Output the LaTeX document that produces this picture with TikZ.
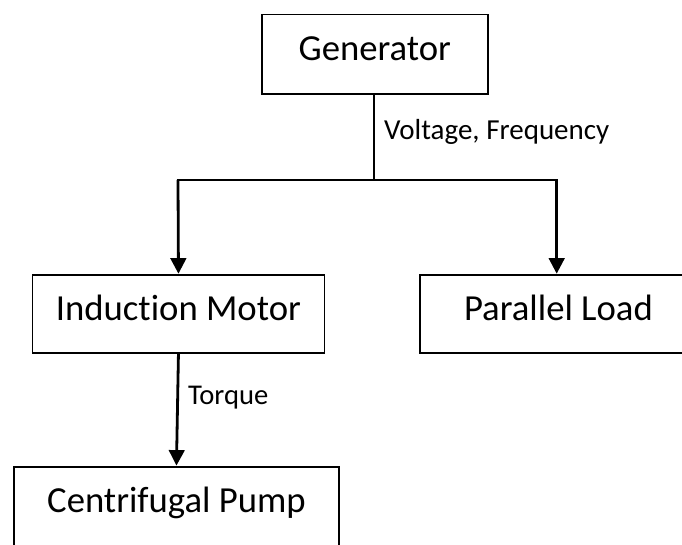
\documentclass[tikz,border=0pt]{standalone}
\usepackage{fontspec}
\setmainfont[Ligatures=NoCommon]{Carlito}
\usetikzlibrary{arrows.meta}
\begin{document}
\begin{tikzpicture}[x=1pt,y=-1pt,
  blockbox/.style={draw, line width=1.9pt, inner sep=0pt, anchor=north west,
    font=\fontsize{36.7}{44}\selectfont},
  flowlabel/.style={inner sep=0pt, anchor=base west,
    font=\fontsize{29}{34}\selectfont},
  feed/.style={line width=2pt},
  bus/.style={line width=2.5pt},
  flowarrow/.style={line width=2.8pt, -{Triangle[length=15.5pt,width=15.5pt]}}]
\useasboundingbox (0,0) rectangle (682,544);
\node[blockbox, minimum width=226.3pt, text height=46.5pt, text depth=33.3pt] (gen) at (260.7,13.5) {Generator};
\node[blockbox, minimum width=292pt, text height=45.8pt, text depth=32.2pt] (motor) at (31.5,273.7) {Induction Motor};
\node[blockbox, minimum width=276.6pt, text height=45.8pt, text depth=32.2pt] (load) at (419.2,273.7) {Parallel Load};
\node[blockbox, minimum width=324.4pt, text height=46.1pt, text depth=40pt] (pump) at (13.3,465.6) {Centrifugal Pump};
\coordinate (j) at (374.3,180);
\coordinate (jl) at (178,180);
\coordinate (jr) at (556.7,180);
\draw[feed] (gen.south -| j) -- (j);
\draw[bus] ([xshift=-1.4pt]jl) -- ([xshift=1.4pt]jr);
\draw[flowarrow] (jl) -- (motor.north);
\draw[flowarrow] (jr) -- (jr |- load.north);
\draw[flowarrow] (motor.south) -- (pump.north);
\node[flowlabel] (vf) at (384,139.3) {Voltage, Frequency};
\node[flowlabel, font=\fontsize{28.6}{34}\selectfont] (tq) at (187.8,404) {Torque};
\end{tikzpicture}
\end{document}
